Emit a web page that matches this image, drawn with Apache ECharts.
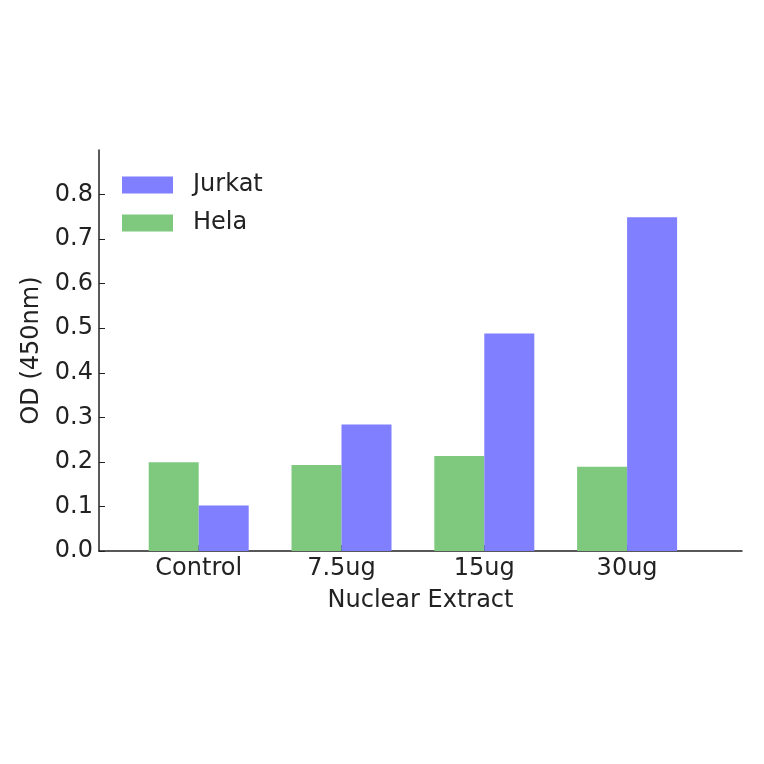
<!DOCTYPE html>
<html>
<head>
<meta charset="utf-8">
<script src="https://cdn.jsdelivr.net/npm/echarts@6/dist/echarts.min.js"></script>
<style>
  html, body { margin: 0; padding: 0; background: #fff; }
  #main { width: 764px; height: 764px; }
</style>
</head>
<body>
<div id="main"></div>
<script>
var categories = ["Control", "7.5ug", "15ug", "30ug"];
var helaValues = [0.199, 0.193, 0.213, 0.189];
var jurkatValues = [0.102, 0.284, 0.488, 0.749];
var legendNames = ["Jurkat", "Hela"];

var font = "DejaVu Sans";
var myChart = echarts.init(document.getElementById("main"));

var option = {
    backgroundColor: "#fff",
    animation: false,
    legend: {
        data: legendNames,
        orient: "vertical",
        left: 117,
        top: 168,
        itemWidth: 51,
        itemHeight: 17,
        itemGap: 14,
        icon: "rect",
        textStyle: {
            fontFamily: font,
            fontSize: 24,
            color: "#222",
            padding: [0, 0, 0, 15]
        }
    },
    grid: [
        // frame: spines, y ticks
        { left: 99, right: 22, top: 150, bottom: 213 },
        // bars
        { left: 127.3, right: 65.5, top: 150, bottom: 213 }
    ],
    xAxis: [
        {
            gridIndex: 0,
            type: "value",
            min: 0,
            max: 1,
            axisLine: { show: true, lineStyle: { color: "#222", width: 1.5 } },
            axisTick: { show: false },
            axisLabel: { show: false },
            splitLine: { show: false },
            name: "Nuclear Extract",
            nameLocation: "middle",
            nameGap: 38,
            nameTextStyle: { fontFamily: font, fontSize: 24, color: "#222" }
        },
        {
            gridIndex: 1,
            type: "category",
            data: categories,
            axisLine: { show: false },
            axisTick: {
                show: true,
                inside: true,
                length: 6,
                alignWithLabel: true,
                lineStyle: { color: "#222" }
            },
            axisLabel: {
                fontFamily: font,
                fontSize: 24,
                color: "#222",
                margin: 6
            },
            splitLine: { show: false }
        }
    ],
    yAxis: [
        {
            gridIndex: 0,
            type: "value",
            min: 0,
            max: 0.9,
            interval: 0.1,
            axisLine: { show: true, lineStyle: { color: "#222", width: 1.5 } },
            axisTick: { show: true, inside: true, length: 6, lineStyle: { color: "#222" } },
            axisLabel: {
                fontFamily: font,
                fontSize: 24,
                color: "#222",
                margin: 6,
                showMaxLabel: false,
                formatter: function (v) { return v.toFixed(1); }
            },
            splitLine: { show: false },
            name: "OD (450nm)",
            nameLocation: "middle",
            nameGap: 51,
            nameTextStyle: { fontFamily: font, fontSize: 24, color: "#222" }
        },
        {
            gridIndex: 1,
            type: "value",
            min: 0,
            max: 0.9,
            show: false
        }
    ],
    series: [
        {
            name: "Hela",
            type: "bar",
            xAxisIndex: 1,
            yAxisIndex: 1,
            data: helaValues,
            barWidth: 50,
            barGap: "0%",
            itemStyle: { color: "#7fc97f" }
        },
        {
            name: "Jurkat",
            type: "bar",
            xAxisIndex: 1,
            yAxisIndex: 1,
            data: jurkatValues,
            barWidth: 50,
            barGap: "0%",
            itemStyle: { color: "#7f7fff" }
        }
    ]
};
myChart.setOption(option);
</script>
</body>
</html>
